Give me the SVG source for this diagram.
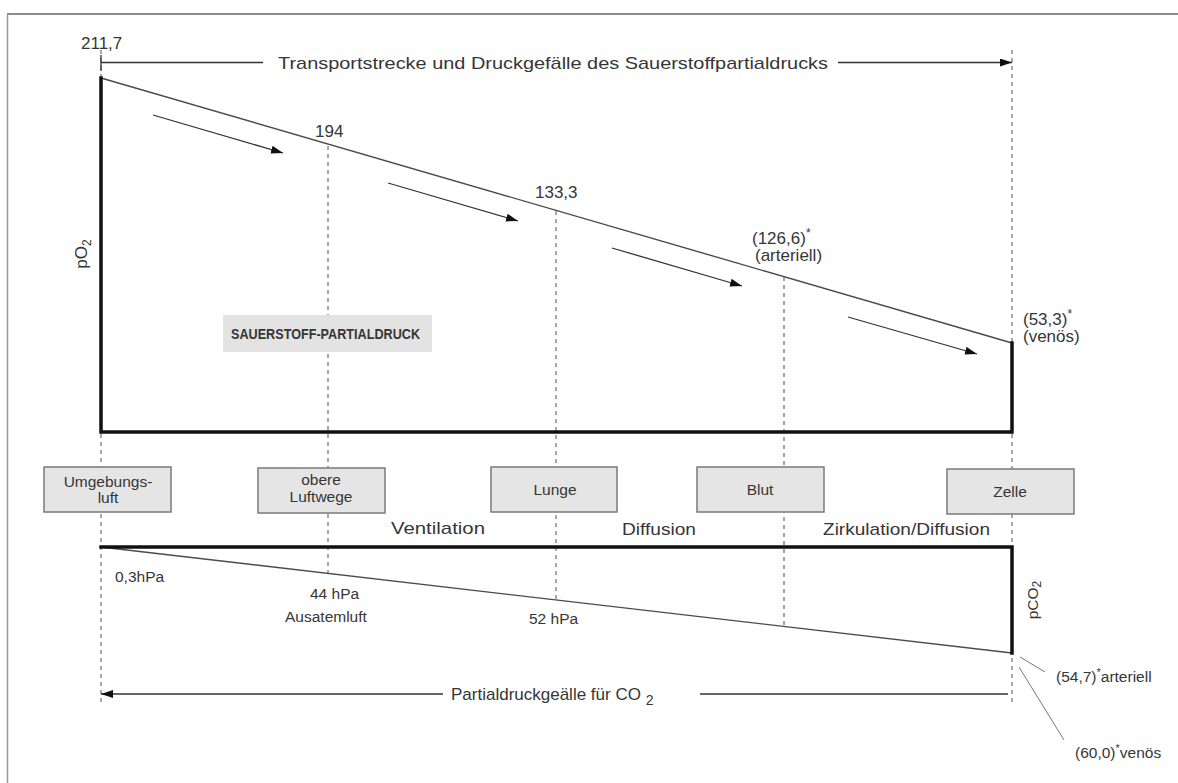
<svg xmlns="http://www.w3.org/2000/svg" width="1178" height="783" viewBox="0 0 1178 783">
  <style>
    text { font-family: "Liberation Sans", Arial, sans-serif; fill: #363636; }
    .lbl { font-size: 17px; }
    .sm { font-size: 15.5px; }
    .box { fill: #e5e5e5; stroke: #7a7a7a; stroke-width: 1.5; }
    .guide { stroke: #6e6e6e; stroke-width: 1.2; stroke-dasharray: 4 4; fill: none; }
    .slope { stroke: #4a4a4a; stroke-width: 1.4; fill: none; }
    .thick { stroke: #111; stroke-width: 3.5; fill: none; stroke-linecap: square; }
    .thin { stroke: #333; stroke-width: 1.3; fill: none; }
    .leader { stroke: #777; stroke-width: 1; fill: none; }
  </style>
  <defs>
    <marker id="head" viewBox="0 0 12 8" refX="12" refY="4" markerWidth="12" markerHeight="8" markerUnits="userSpaceOnUse" orient="auto">
      <path d="M0,0 L12,4 L0,8 Z" fill="#111"/>
    </marker>
  </defs>

  <!-- page frame -->
  <g id="frame">
    <line x1="7" y1="14" x2="1178" y2="14" stroke="#8a8a8a" stroke-width="2"/>
    <line x1="7.5" y1="14" x2="7.5" y2="783" stroke="#9a9a9a" stroke-width="1.5"/>
  </g>

  <!-- vertical station guides -->
  <g id="guides">
    <line class="guide" x1="101" y1="50" x2="101" y2="706"/>
    <line class="guide" x1="1012" y1="50" x2="1012" y2="706"/>
    <line class="guide" x1="328" y1="146" x2="328" y2="573"/>
    <line class="guide" x1="556" y1="211" x2="556" y2="600"/>
    <line class="guide" x1="784" y1="277" x2="784" y2="626"/>
  </g>

  <!-- oxygen partial pressure profile -->
  <g id="o2-profile">
    <line class="slope" x1="101" y1="78" x2="1012" y2="343"/>
    <polyline class="thick" points="101,78 101,432 1012,432 1012,343"/>
  </g>

  <!-- carbon dioxide partial pressure profile -->
  <g id="co2-profile">
    <line class="slope" x1="101" y1="547" x2="1012" y2="653" stroke-width="1.6"/>
    <polyline class="thick" points="101,547 1012,547 1012,653"/>
  </g>

  <g id="connectors">
    <!-- transport direction arrows -->
    <line class="thin" x1="153" y1="115" x2="283" y2="153" marker-end="url(#head)"/>
    <line class="thin" x1="388" y1="183" x2="518" y2="221" marker-end="url(#head)"/>
    <line class="thin" x1="612" y1="248" x2="742" y2="286" marker-end="url(#head)"/>
    <line class="thin" x1="848" y1="317" x2="977" y2="354" marker-end="url(#head)"/>
    <!-- oxygen span -->
    <line class="thin" x1="101" y1="55" x2="101" y2="71"/>
    <line class="thin" x1="101" y1="62.5" x2="263" y2="62.5"/>
    <line class="thin" x1="838" y1="62.5" x2="1012" y2="62.5" marker-end="url(#head)"/>
    <!-- carbon dioxide span -->
    <line class="thin" x1="443" y1="694" x2="101" y2="694" marker-end="url(#head)"/>
    <line class="thin" x1="700" y1="694" x2="1008" y2="694"/>
    <!-- value leaders -->
    <line class="leader" x1="1020" y1="657" x2="1045" y2="672"/>
    <line class="leader" x1="1019" y1="667" x2="1064" y2="740"/>
  </g>

  <!-- oxygen labels -->
  <g id="o2-labels">
    <text class="lbl" x="81" y="49">211,7</text>
    <text class="lbl" x="278" y="69" textLength="550" lengthAdjust="spacingAndGlyphs">Transportstrecke und Druckgefälle des Sauerstoffpartialdrucks</text>
    <text class="lbl" x="315" y="137">194</text>
    <text class="lbl" x="535" y="198">133,3</text>
    <text class="lbl" x="752" y="244">(126,6)<tspan font-size="12" dy="-7">*</tspan></text>
    <text class="lbl" x="755" y="261">(arteriell)</text>
    <text class="lbl" x="1023" y="325">(53,3)<tspan font-size="12" dy="-7">*</tspan></text>
    <text class="lbl" x="1023" y="342">(venös)</text>
    <text class="lbl" transform="translate(87 254) rotate(-90)" text-anchor="middle">pO<tspan font-size="12" dy="4">2</tspan></text>
  </g>

  <g id="o2-title">
    <rect x="223" y="315" width="209" height="37" fill="#e3e3e3"/>
    <text x="231" y="339" font-size="15" font-weight="bold" fill="#2e2e2e" textLength="189" lengthAdjust="spacingAndGlyphs">SAUERSTOFF-PARTIALDRUCK</text>
  </g>

  <!-- stations -->
  <g id="node-umgebungsluft">
    <rect class="box" x="44" y="467" width="127" height="45"/>
    <text class="sm" x="108" y="487" text-anchor="middle">Umgebungs-</text>
    <text class="sm" x="108" y="503" text-anchor="middle">luft</text>
  </g>
  <g id="node-obere-luftwege">
    <rect class="box" x="258" y="468" width="127" height="45"/>
    <text class="sm" x="321" y="485" text-anchor="middle">obere</text>
    <text class="sm" x="321" y="502" text-anchor="middle">Luftwege</text>
  </g>
  <g id="node-lunge">
    <rect class="box" x="491" y="467" width="126" height="45"/>
    <text class="sm" x="555" y="495" text-anchor="middle">Lunge</text>
  </g>
  <g id="node-blut">
    <rect class="box" x="697" y="467" width="127" height="45"/>
    <text class="sm" x="760" y="495" text-anchor="middle">Blut</text>
  </g>
  <g id="node-zelle">
    <rect class="box" x="947" y="469" width="127" height="45"/>
    <text class="sm" x="1010" y="497" text-anchor="middle">Zelle</text>
  </g>

  <!-- process labels -->
  <g id="process-labels">
    <text class="lbl" x="391" y="534" textLength="94" lengthAdjust="spacingAndGlyphs">Ventilation</text>
    <text class="lbl" x="622" y="535" textLength="74" lengthAdjust="spacingAndGlyphs">Diffusion</text>
    <text class="lbl" x="823" y="535" textLength="167" lengthAdjust="spacingAndGlyphs">Zirkulation/Diffusion</text>
  </g>

  <!-- carbon dioxide labels -->
  <g id="co2-labels">
    <text class="sm" x="115" y="582">0,3hPa</text>
    <text class="sm" x="310" y="599">44 hPa</text>
    <text class="sm" x="285" y="622">Ausatemluft</text>
    <text class="sm" x="529" y="624">52 hPa</text>
    <text class="lbl" x="451" y="700">Partialdruckgeälle für CO <tspan font-size="14" dy="5">2</tspan></text>
    <text class="sm" transform="translate(1038 600) rotate(-90)" text-anchor="middle">pCO<tspan font-size="12" dy="3">2</tspan></text>
    <text class="sm" x="1056" y="682">(54,7)<tspan font-size="11" dy="-6">*</tspan><tspan dy="6">arteriell</tspan></text>
    <text class="sm" x="1075" y="758">(60,0)<tspan font-size="11" dy="-6">*</tspan><tspan dy="6">venös</tspan></text>
  </g>
</svg>
